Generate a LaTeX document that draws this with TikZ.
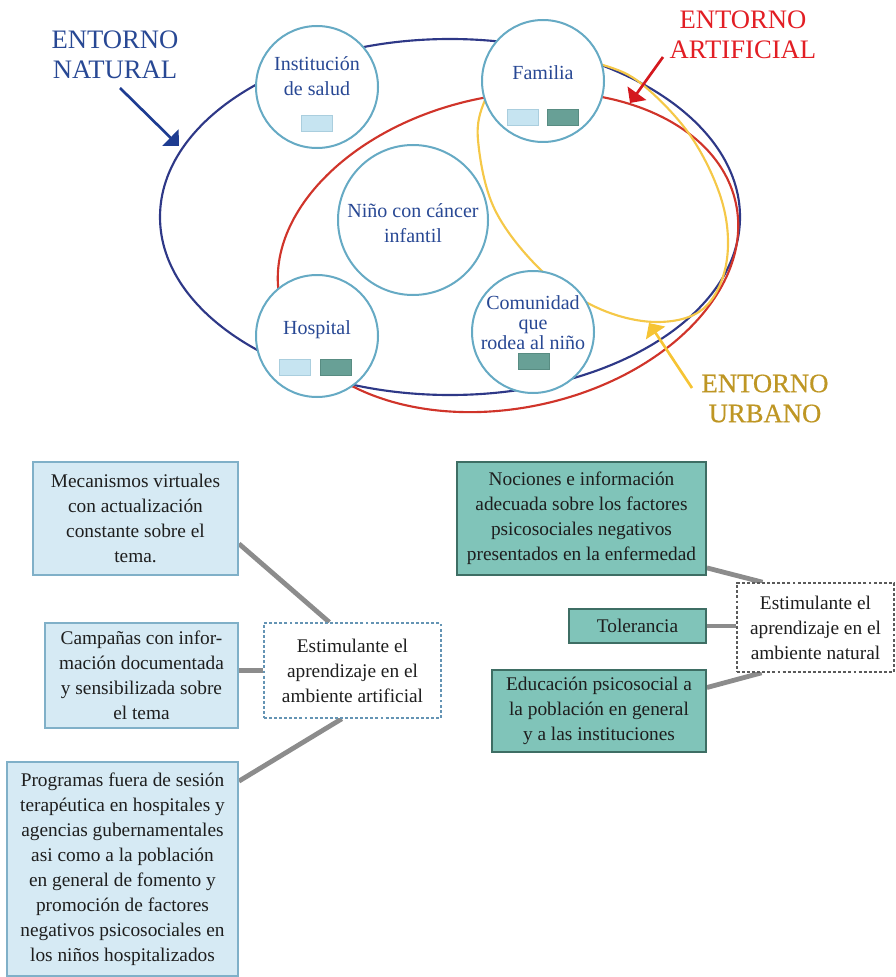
\documentclass[tikz,border=0pt]{standalone}
\usepackage{fontspec}
\setmainfont{Liberation Serif}
\usetikzlibrary{arrows.meta,calc,backgrounds}

\definecolor{navyline}{RGB}{46,56,135}
\definecolor{redline}{RGB}{208,52,42}
\definecolor{yellowline}{RGB}{245,200,72}
\definecolor{ringblue}{RGB}{102,170,196}
\definecolor{labelnavy}{RGB}{40,72,148}
\definecolor{labelred}{RGB}{226,30,36}
\definecolor{labelgold}{RGB}{190,150,36}
\definecolor{arrownavy}{RGB}{30,60,145}
\definecolor{arrowred}{RGB}{212,24,30}
\definecolor{arrowyellow}{RGB}{246,196,52}
\definecolor{paleblue}{RGB}{214,234,244}
\definecolor{paleedge}{RGB}{128,176,200}
\definecolor{tealfill}{RGB}{128,196,185}
\definecolor{tealedge}{RGB}{62,110,100}
\definecolor{chiplight}{RGB}{198,228,241}
\definecolor{chiplightedge}{RGB}{170,206,222}
\definecolor{chipdark}{RGB}{104,160,150}
\definecolor{chipdarkedge}{RGB}{88,140,130}
\definecolor{linkgray}{RGB}{140,140,140}
\definecolor{dotblue}{RGB}{100,148,180}
\definecolor{dotgray}{RGB}{90,90,90}
\definecolor{bodytext}{RGB}{30,30,30}

\begin{document}
\begin{tikzpicture}[x=0.75pt,y=-0.75pt,
  ring/.style={circle, draw=ringblue, line width=1.5pt, fill=white, inner sep=0pt, minimum size=91.5pt},
  ringtext/.style={text=labelnavy, font=\fontsize{15}{18.75}\selectfont, align=center, inner sep=0pt},
  chipL/.style={draw=chiplightedge, fill=chiplight, line width=0.6pt, minimum width=23.25pt, minimum height=12pt, inner sep=0pt},
  chipD/.style={draw=chipdarkedge, fill=chipdark, line width=0.6pt, minimum width=23.25pt, minimum height=12pt, inner sep=0pt},
  envlabel/.style={font=\fontsize{20}{22.5}\selectfont, align=center, inner sep=0pt},
  pointer/.style={line width=2pt, -{Triangle[length=9pt,width=17pt]}},
  boxtext/.style={align=center, inner sep=0pt, text=bodytext, font=\fontsize{14.5}{18.75}\selectfont},
  softbox/.style={boxtext, draw=paleedge, fill=paleblue, line width=1.4pt},
  tealbox/.style={boxtext, draw=tealedge, fill=tealfill, line width=1.4pt},
  dotbox/.style={boxtext, dash pattern=on 2.2pt off 1.6pt, line width=1.2pt, fill=white},
  link/.style={draw=linkgray, line width=3.6pt}
]
\useasboundingbox (0,0) rectangle (895,977);

% ---- the three environments ----
\draw[navyline, line width=1.6pt] (450,217) ellipse [x radius=290, y radius=178];
\draw[redline, line width=1.6pt, rotate around={12:(508,252)}] (508,252) ellipse [x radius=233, y radius=156];
\draw[yellowline, line width=1.6pt] plot[smooth cycle, tension=0.6] coordinates {
  (485,100) (478,140) (495,210) (543,272) (600,309) (657,322)
  (703,309) (726,265) (723,205) (692,138) (643,85) (603,65) (550,55) (505,72)};

% ---- actors ----
\node[ring] (inst) at (317,87) {};
\node[ring] (fam)  at (543,81) {};
\node[ring, minimum size=112.5pt] (nino) at (413,220) {};
\node[ring] (hosp) at (317,336) {};
\node[ring] (com)  at (533,332) {};

\node[ringtext] (instT) at ([yshift=8.25pt]inst.center) {Institución\\de salud};
\node[ringtext] (famT)  at ([yshift=6pt]fam.center) {Familia};
\node[ringtext] (ninoT) at ([yshift=-2.25pt]nino.center) {Niño con cáncer\\infantil};
\node[ringtext] (hospT) at ([yshift=4.5pt]hosp.center) {Hospital};
\node[ringtext, font=\fontsize{15}{15}\selectfont] (comT) at ([yshift=7pt]com.center) {Comunidad\\que\\rodea al niño};

\node[chipL] (instA) at (317,123) {};
\node[chipL] (famA)  at (523,117) {};
\node[chipD] (famB)  at (563,117) {};
\node[chipL] (hospA) at (295,367) {};
\node[chipD] (hospB) at (335.5,367) {};
\node[chipD] (comB)  at (533.5,361.5) {};

% ---- environment labels and pointers ----
\node[envlabel, text=labelnavy] (natL) at (115,55) {ENTORNO\\NATURAL};
\node[envlabel, text=labelred] (artL) at (743,34.5) {ENTORNO\\ARTIFICIAL};
\node[envlabel, text=labelgold, font=\fontsize{20}{22.5}\selectfont\addfontfeature{FakeBold=0.6}] (urbL) at (765,398.5) {ENTORNO\\URBANO};

\coordinate (natS) at (120,88);
\coordinate (natE) at (179,146);
\coordinate (artS) at (663,57);
\coordinate (artE) at (630,103);
\coordinate (urbS) at (692,388);
\coordinate (urbE) at (649,323);
\draw[pointer, arrownavy] (natS) -- (natE);
\draw[pointer, arrowred] (artS) -- (artE);
\draw[pointer, arrowyellow] (urbS) -- (urbE);

% ---- artificial environment learning ----
\node[softbox, minimum width=153.75pt, minimum height=84.75pt] (m1) at (135.5,518.5)
  {Mecanismos virtuales\\con actualización\\constante sobre el\\tema.};
\node[softbox, minimum width=144.75pt, minimum height=78.75pt] (c2) at (141.5,675.5)
  {Campañas con infor-\\mación documentada\\y sensibilizada sobre\\el tema};
\node[softbox, minimum width=173.25pt, minimum height=160.5pt] (p3) at (122.5,869)
  {Programas fuera de sesión\\terapéutica en hospitales y\\agencias gubernamentales\\asi como a la población\\en general de fomento y\\promoción de factores\\negativos psicosociales en\\los niños hospitalizados};
\node[dotbox, draw=dotblue, minimum width=132.75pt, minimum height=71.25pt] (sa) at (352.5,670.5)
  {Estimulante el\\aprendizaje en el\\ambiente artificial};

% ---- natural environment learning ----
\node[tealbox, minimum width=186.75pt, minimum height=84.75pt] (n1) at (581.5,518.5)
  {Nociones e información\\adecuada sobre los factores\\psicosociales negativos\\presentados en la enfermedad};
\node[tealbox, minimum width=102.75pt, minimum height=25.5pt] (t2) at (637.5,626)
  {Tolerancia};
\node[tealbox, minimum width=160.5pt, minimum height=61.5pt] (e3) at (599,711)
  {Educación psicosocial a\\la población en general\\y a las instituciones};
\node[dotbox, draw=dotgray, minimum width=117.75pt, minimum height=66.75pt] (sn) at (815.5,627.5)
  {Estimulante el\\aprendizaje en el\\ambiente natural};

\begin{scope}[on background layer]
  \draw[link] ($(m1.north east)!0.72!(m1.south east)$) -- ($(sa.north west)!0.37!(sa.north east)$);
  \draw[link] (sa.west -| c2.east) -- (sa.west);
  \draw[link] ($(p3.north east)!0.093!(p3.south east)$) -- ($(sa.south west)!0.44!(sa.south east)$);
  \draw[link] ($(n1.north east)!0.93!(n1.south east)$) -- ($(sn.north west)!0.166!(sn.north east)$);
  \draw[link] (t2.east) -- (t2.east -| sn.west);
  \draw[link] ($(e3.north east)!0.22!(e3.south east)$) -- ($(sn.south west)!0.16!(sn.south east)$);
\end{scope}
\end{tikzpicture}
\end{document}
